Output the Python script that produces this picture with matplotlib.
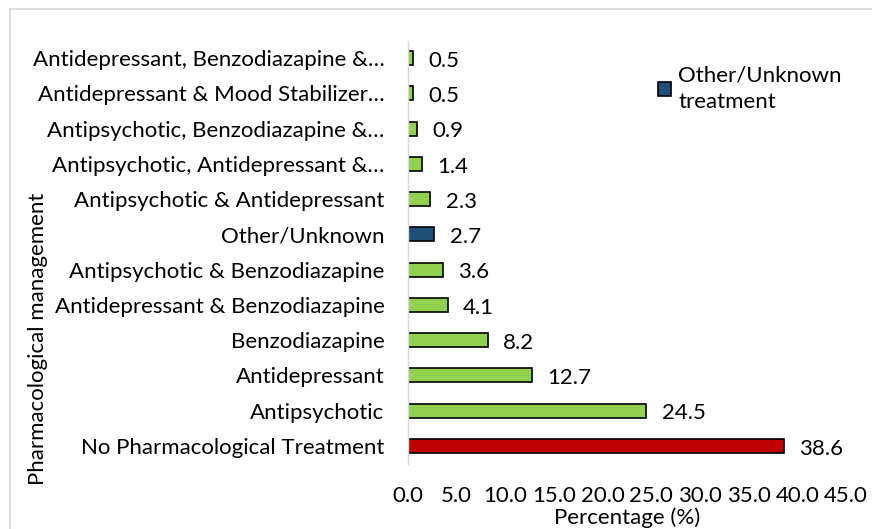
import matplotlib.pyplot as plt
from matplotlib.patches import Rectangle, Patch

categories = [
    "No Pharmacological Treatment",
    "Antipsychotic",
    "Antidepressant",
    "Benzodiazapine",
    "Antidepressant & Benzodiazapine",
    "Antipsychotic & Benzodiazapine",
    "Other/Unknown",
    "Antipsychotic & Antidepressant",
    "Antipsychotic, Antidepressant &\u2026",
    "Antipsychotic, Benzodiazapine &\u2026",
    "Antidepressant & Mood Stabilizer\u2026",
    "Antidepressant, Benzodiazapine &\u2026",
]
values = [38.6, 24.5, 12.7, 8.2, 4.1, 3.6, 2.7, 2.3, 1.4, 0.9, 0.5, 0.5]
groups = ["none", "drug", "drug", "drug", "drug", "drug", "other",
          "drug", "drug", "drug", "drug", "drug"]
xticks = [0, 5, 10, 15, 20, 25, 30, 35, 40, 45]

group_colors = {"none": "#C00000", "drug": "#92D050", "other": "#1F4E79"}

plt.rcParams['font.family'] = ['Lato', 'DejaVu Sans']
fs = 16

W, H = 872, 529
fig = plt.figure(figsize=(W / 100, H / 100), dpi=100)
ax = fig.add_axes([408 / W, 1 - 463.5 / H, (846 - 408) / W, (463.5 - 40.5) / H])

ypos = list(range(len(categories)))
colors = [group_colors[g] for g in groups]
ax.barh(ypos, values, height=0.4, color=colors, edgecolor="black", linewidth=1.2)

for y, v in zip(ypos, values):
    ax.annotate(f"{v:.1f}", xy=(v, y), xytext=(11, -2), textcoords="offset points",
                ha="left", va="center", fontsize=fs)

ax.set_xlim(0, 45)
ax.set_ylim(-0.5, len(categories) - 0.5)
ax.set_yticks(ypos)
ax.set_yticklabels(categories, fontsize=fs)
ax.set_xticks(xticks)
ax.set_xticklabels([f"{t:.1f}" for t in xticks], fontsize=fs)
ax.tick_params(axis="both", length=0)
ax.tick_params(axis="y", pad=17)
ax.tick_params(axis="x", pad=16)
for s in ["top", "right", "bottom"]:
    ax.spines[s].set_visible(False)
ax.spines["left"].set_color("#D9D9D9")
ax.spines["left"].set_linewidth(1)

fig.text(627 / W, 1 - 518 / H, "Percentage (%)", ha="center", va="center", fontsize=fs)
fig.text(38 / W, 1 - 339 / H, "Pharmacological management", rotation=90,
         ha="center", va="center", fontsize=fs)

handle = Patch(facecolor=group_colors["other"], edgecolor="black", linewidth=1.2)
leg = fig.legend([handle], ["Other/Unknown\ntreatment"], loc="upper left",
                 bbox_to_anchor=(647 / W, 1 - 54 / H), frameon=False, fontsize=fs,
                 handlelength=0.6, handleheight=0.6, handletextpad=0.3, borderpad=0)
leg.get_texts()[0].set_linespacing(1.45)

fig.patches.append(Rectangle((10 / W, -0.05), 1.0, 1 - 9 / H + 0.05,
                             transform=fig.transFigure, fill=False,
                             edgecolor="#D9D9D9", linewidth=1.2))

fig.savefig("out.png", dpi=100)
